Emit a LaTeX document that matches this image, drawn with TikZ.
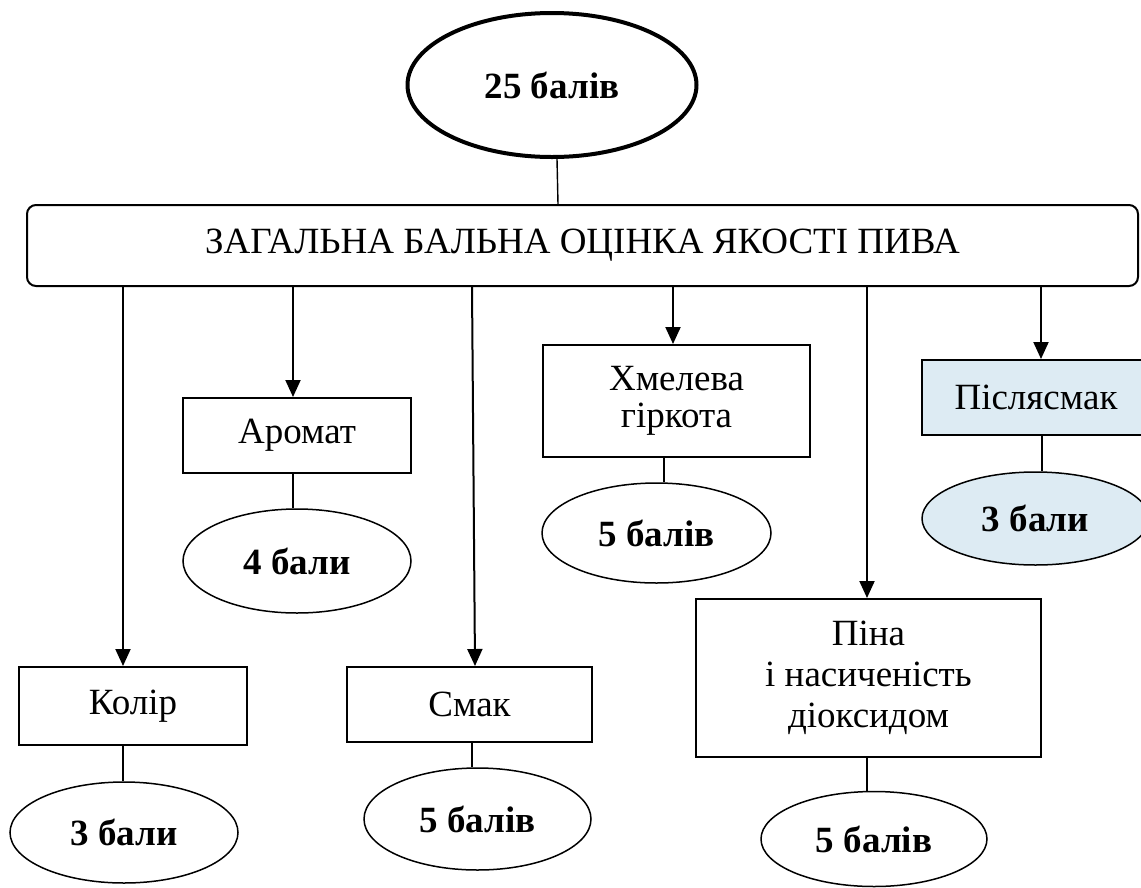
\documentclass[tikz,border=0pt]{standalone}
\usepackage{fontspec}
\setmainfont{Liberation Serif}
\usetikzlibrary{shapes.geometric,arrows.meta}
\definecolor{paleblue}{HTML}{DDEBF3}
\tikzset{
  txt/.style={font=\fontsize{37}{41}\selectfont},
  btxt/.style={font=\fontsize{37}{41}\selectfont\bfseries},
  catbox/.style={draw, line width=2pt, inner sep=0pt, align=center, txt},
  scoreell/.style={ellipse, draw, line width=1.5pt, inner sep=0pt, btxt},
  conn/.style={line width=1.4pt},
  arr/.style={line width=2pt, -{Triangle[length=17pt,width=15pt]}}
}
\begin{document}
\begin{tikzpicture}[x=1pt,y=-1pt]
\useasboundingbox (0,0) rectangle (1141,887);
% top score
\node[scoreell, line width=4pt, minimum width=289pt, minimum height=144pt] (top) at (552,85) {25 балів};
% main box
\node[draw, line width=2pt, rounded corners=9pt, minimum width=1111pt, minimum height=81pt, inner sep=0pt, txt] (main) at (582.5,245.5) {ЗАГАЛЬНА БАЛЬНА ОЦІНКА ЯКОСТІ ПИВА};
\draw[conn] ([xshift=5pt]top.south) -- ([xshift=6pt]top.south |- main.north);
% category boxes
\node[catbox, minimum width=228pt, minimum height=78pt] (kolir) at (133,706) {Колір};
\node[catbox, minimum width=228pt, minimum height=75pt] (aromat) at (297,435.5) {Аромат};
\node[catbox, minimum width=245pt, minimum height=75pt] (smak) at (469.5,704.5) {Смак};
\node[catbox, minimum width=267pt, minimum height=112pt, font=\fontsize{37}{37}\selectfont] (hmel) at (676.5,401) {Хмелева\\гіркота};
\node[catbox, minimum width=345pt, minimum height=158pt] (pina) at (868.5,678) {Піна\\і насиченість\\діоксидом};
\node[catbox, fill=paleblue, minimum width=228pt, minimum height=75pt] (pisl) at (1036,397.5) {Післясмак};
% score ellipses
\node[scoreell, minimum width=228pt, minimum height=101pt] (kolirS) at (124,832.5) {3 бали};
\node[scoreell, minimum width=228pt, minimum height=104pt] (aromatS) at (297,561) {4 бали};
\node[scoreell, minimum width=227pt, minimum height=102pt] (smakS) at (477.5,819) {5 балів};
\node[scoreell, minimum width=229pt, minimum height=100pt] (hmelS) at (656.5,533) {5 балів};
\node[scoreell, minimum width=226pt, minimum height=95pt] (pinaS) at (874,839) {5 балів};
\node[scoreell, fill=paleblue, minimum width=227pt, minimum height=93pt] (pislS) at (1035.5,518.5) {3 бали};
% arrows from main box
\draw[arr] ([xshift=-10pt]kolir.north |- main.south) -- ([xshift=-10pt]kolir.north);
\draw[arr] ([xshift=-4pt]aromat.north |- main.south) -- ([xshift=-4pt]aromat.north);
\draw[arr] ([xshift=2.5pt]smak.north |- main.south) -- ([xshift=5.5pt]smak.north);
\draw[arr] ([xshift=-3.5pt]hmel.north |- main.south) -- ([xshift=-3.5pt]hmel.north);
\draw[arr] ([xshift=-1.5pt]pina.north |- main.south) -- ([xshift=-1.5pt]pina.north);
\draw[arr] ([xshift=5pt]pisl.north |- main.south) -- ([xshift=5pt]pisl.north);
% box to score connectors
\draw[conn] ([xshift=-10pt]kolir.south) -- ([xshift=-10pt]kolir.south |- kolirS.north);
\draw[conn] ([xshift=-4pt]aromat.south) -- ([xshift=-4pt]aromat.south |- aromatS.north);
\draw[conn] ([xshift=2.5pt]smak.south) -- ([xshift=2.5pt]smak.south |- smakS.north);
\draw[conn] ([xshift=-12.5pt]hmel.south) -- ([xshift=-12.5pt]hmel.south |- hmelS.north);
\draw[conn] ([xshift=-1.5pt]pina.south) -- ([xshift=-1.5pt]pina.south |- pinaS.north);
\draw[conn] ([xshift=6pt]pisl.south) -- ([xshift=6pt]pisl.south |- pislS.north);
\end{tikzpicture}
\end{document}
